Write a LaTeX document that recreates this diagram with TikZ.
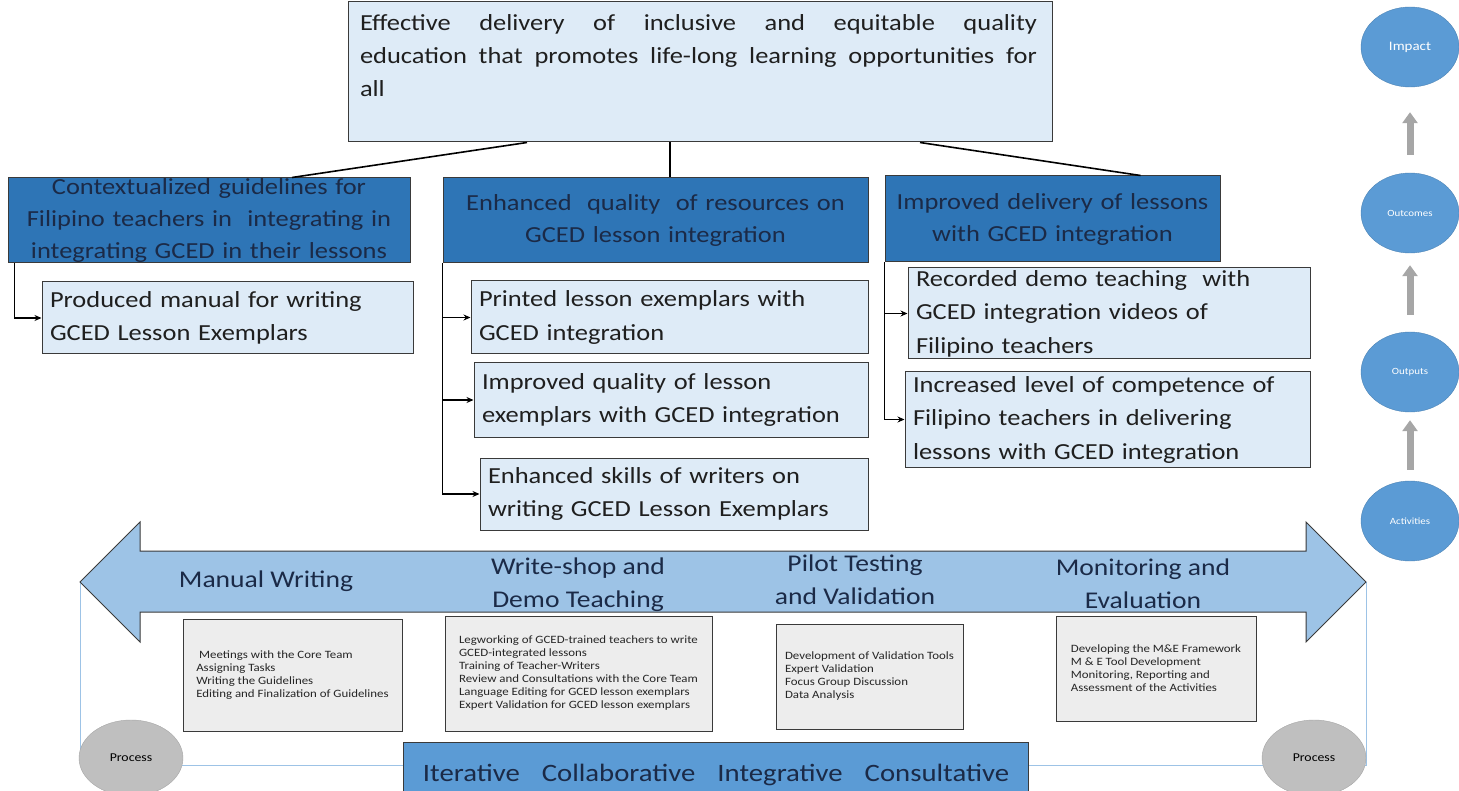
\documentclass[tikz,border=0pt]{standalone}
\usepackage{fontspec}
\setmainfont{Carlito}[FakeStretch=1.15]
\usetikzlibrary{shapes.geometric,arrows.meta}

\definecolor{headblue}{HTML}{2E75B6}
\definecolor{paleblue}{HTML}{DEEBF7}
\definecolor{bandblue}{HTML}{9DC3E6}
\definecolor{stageblue}{HTML}{5B9BD5}
\definecolor{navytext}{HTML}{1B2A47}
\definecolor{boxline}{HTML}{3A3A3A}
\definecolor{actgray}{HTML}{EDEDED}

\begin{document}
\begin{tikzpicture}[x=1pt, y=-1pt,
    headbox/.style={draw=boxline, fill=headblue, text=navytext, line width=1pt, align=center,
        inner xsep=4pt, inner ysep=0pt, font=\fontsize{23}{32}\selectfont},
    resultbox/.style={draw=boxline, fill=paleblue, text=black!88, line width=1pt, align=left,
        inner xsep=8pt, inner ysep=0pt, font=\fontsize{23}{33.5}\selectfont},
    feed/.style={line width=1.8pt, -{Stealth[length=7pt,width=6pt]}},
    stage/.style={ellipse, draw=stageblue!85!black, fill=stageblue, text=white, minimum width=98pt,
        minimum height=80pt, inner sep=0pt, font=\fontsize{9.5}{12}\selectfont},
    rise/.style={line width=7pt, draw=black!35, -{Triangle[length=11pt,width=15pt]}},
    phase/.style={text=navytext, align=center, font=\fontsize{24}{33}\selectfont},
    task/.style={draw=boxline, fill=actgray, line width=0.9pt, align=left,
        text=black!85, font=\fontsize{11.2}{13}\selectfont},
    proc/.style={ellipse, draw=black!35, fill=black!25, minimum width=104pt, minimum height=76pt,
        font=\fontsize{12}{15}\selectfont}
]
\useasboundingbox (0,0) rectangle (1459,791);

% goal and the three outcomes
\node[draw=boxline, fill=paleblue, line width=1pt, minimum width=704pt, minimum height=140pt,
    text width=680pt, align=left, text=black!88, font=\fontsize{23}{33}\selectfont] (goal) at (700,72)
    {\leavevmode\hbox to 677pt{Effective\hfill delivery\hfill of\hfill inclusive\hfill and\hfill equitable\hfill quality}\\
     \leavevmode\hbox to 677pt{education\hfill that\hfill promotes\hfill life-long\hfill learning\hfill opportunities\hfill for}\\
     all\\ \mbox{}};

\node[headbox, minimum width=402pt, minimum height=85pt, text width=392pt] (guide) at (209,220.5)
    {Contextualized guidelines for\\ Filipino teachers in\ \ integrating in\\ integrating GCED in their lessons};
\node[headbox, minimum width=425pt, minimum height=85pt, text width=415pt] (res) at (655.5,220.5)
    {Enhanced\ \ quality\ \ of resources on\\ GCED lesson integration};
\node[headbox, minimum width=335pt, minimum height=86pt, text width=325pt] (deliv) at (1052.5,219)
    {Improved delivery of lessons\\ with GCED integration};

\coordinate (midtop) at (670,142);
\draw[line width=1.6pt] ([xshift=-173pt]goal.south) -- ([xshift=83pt]guide.north);
\draw[line width=1.6pt] (midtop) -- (midtop |- res.north);
\draw[line width=1.6pt] ([xshift=220pt]goal.south) -- ([xshift=88pt]deliv.north);

% outputs
\node[resultbox, minimum width=371pt, minimum height=72pt, text width=355pt] (man) at (227.5,318)
    {Produced manual for writing\\ GCED Lesson Exemplars};
\node[resultbox, minimum width=397pt, minimum height=73pt, text width=381pt] (pr1) at (669.5,317.5)
    {Printed lesson exemplars with\\ GCED integration};
\node[resultbox, minimum width=394pt, minimum height=74pt, text width=378pt] (pr2) at (671,400)
    {Improved quality of lesson\\ exemplars with GCED integration};
\node[resultbox, minimum width=388pt, minimum height=72pt, text width=372pt] (pr3) at (674,494)
    {Enhanced skills of writers on\\ writing GCED Lesson Exemplars};
\node[resultbox, minimum width=402pt, minimum height=91pt, text width=386pt] (rc1) at (1109,313.5)
    {Recorded demo teaching\ \ with\\ GCED integration videos of\\ Filipino teachers};
\node[resultbox, minimum width=405pt, minimum height=95pt, text width=389pt] (rc2) at (1107.5,419.5)
    {Increased level of competence of\\ Filipino teachers in delivering\\ lessons with GCED integration};

\draw[feed] ([xshift=7pt]guide.south west) |- (man.west);
\foreach \b in {pr1,pr2,pr3}
    \draw[feed] (res.south west) |- (\b.west);
\foreach \b in {rc1,rc2}
    \draw[feed] (deliv.south west) |- (\b.west);

% results chain
\node[stage, font=\fontsize{13}{16}\selectfont] (imp) at (1410,47) {Impact};
\node[stage] (outc) at (1410,213) {Outcomes};
\node[stage] (outp) at (1410,372) {Outputs};
\node[stage] (act) at (1410,521) {Activities};
\draw[rise] ([yshift=18pt]outc.north) -- ([yshift=-25pt]imp.south);
\draw[rise] ([yshift=17pt]outp.north) -- ([yshift=-12pt]outc.south);
\draw[rise] ([yshift=11pt]act.north) -- ([yshift=-8pt]outp.south);

% process band
\draw[bandblue, line width=0.8pt] (80,582) -- (80,765) -- (1366,765) -- (1366,582);
\filldraw[fill=bandblue, draw=boxline, line width=1pt] (80,582) -- (140,522) -- (140,551) -- (1306,551)
    -- (1306,522) -- (1366,582) -- (1306,642) -- (1306,612) -- (140,612) -- (140,642) -- cycle;

\node[phase] (manw) at (266,581) {Manual Writing};
\node[phase] (wshop) at (578,585) {Write-shop and\\ Demo Teaching};
\node[phase] (pilot) at (855,580) {Pilot Testing\\ and Validation};
\node[phase] (mne) at (1143,584) {Monitoring and\\ Evaluation};

\node[task, minimum width=219pt, minimum height=112pt] (t1) at (292.5,675)
    {\ Meetings with the Core Team\\ Assigning Tasks\\ Writing the Guidelines\\ Editing and Finalization of Guidelines};
\node[task, minimum width=267pt, minimum height=115pt] (t2) at (578.5,673.5)
    {Legworking of GCED-trained teachers to write\\ GCED-integrated lessons\\ Training\ of Teacher-Writers\\
     Review and Consultations with the Core Team\\ Language Editing for GCED lesson exemplars\\
     Expert Validation for GCED lesson exemplars};
\node[task, minimum width=187pt, minimum height=105pt] (t3) at (869.5,676.5)
    {Development of Validation Tools\\ Expert Validation\\ Focus Group Discussion\\ Data Analysis};
\node[task, minimum width=200pt, minimum height=105pt] (t4) at (1156,668.5)
    {Developing the M\&E Framework\\ M \& E Tool Development\\ Monitoring, Reporting and\\ Assessment of the Activities};

\node[proc] (procl) at (131,758) {Process};
\node[proc] (procr) at (1314,758) {Process};

\node[draw=boxline, fill=stageblue, line width=1pt, minimum width=625pt, minimum height=66pt, text=navytext,
    font=\fontsize{25}{34}\selectfont] (ways) at (716,775)
    {Iterative\hspace{22pt}Collaborative\hspace{22pt}Integrative\hspace{22pt}Consultative};
\end{tikzpicture}
\end{document}
